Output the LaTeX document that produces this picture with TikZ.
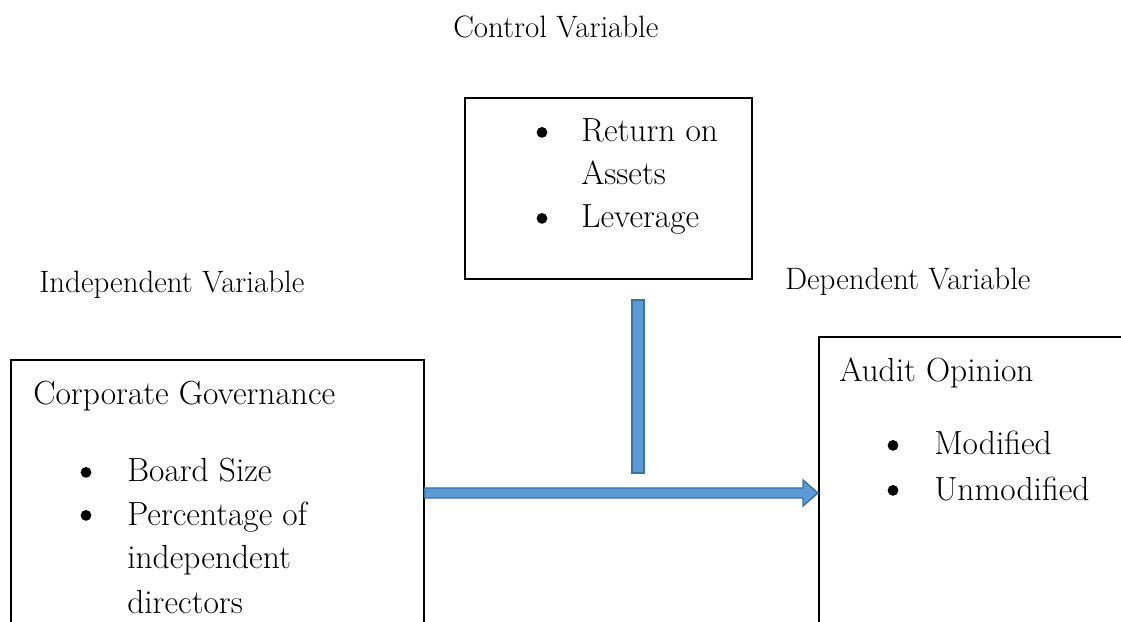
\documentclass[tikz,border=0pt]{standalone}
\usetikzlibrary{calc}
\definecolor{c1}{HTML}{000000}
\definecolor{barfill}{HTML}{5B9BD5}
\definecolor{barline}{HTML}{41719C}

\begin{document}
\begin{tikzpicture}[
    every node/.style={inner sep=0pt, text=c1},
    lab/.style={font=\fontsize{22}{26}\selectfont, anchor=base west},
    txt/.style={font=\fontsize{23.8}{28}\selectfont, anchor=base west},
    box/.style={draw=c1, line width=1.2pt, anchor=north west},
    dot/.style={fill=c1, circle, minimum size=0.27cm},
    bar/.style={fill=barfill, draw=barline, line width=1pt, line join=miter},
]
\useasboundingbox (0,0) rectangle (28.025,15.525);
\clip (0,0) rectangle (28.025,15.525);

% headings over the boxes
\node[lab] (ctl) at (11.325, 14.575) {Control Variable};
\node[lab] (ind) at (0.975, 8.2) {Independent Variable};
\node[lab] (dep) at (19.625, 8.275) {Dependent Variable};

% boxes (left and right run off the page)
\node[box, minimum width=7.175cm, minimum height=4.525cm] (cvbox) at (11.6, 13.1) {};
\node[box, minimum width=10.325cm, minimum height=8cm] (cg) at (0.25, 6.55) {};
\node[box, minimum width=9cm, minimum height=9cm] (ao) at (20.45, 7.125) {};

% control variable
\node[txt] (roa) at (14.525, 11.975) {Return on};
\node[txt] (ast) at (14.525, 10.9) {Assets};
\node[txt] (lev) at (14.525, 9.825) {Leverage};
\node[dot] (d1) at (13.55, 12.215) {};
\node[dot] (d2) at (13.55, 10.065) {};

% independent variable
\node[txt] (cgt) at (0.825, 5.4) {Corporate Governance};
\node[txt] (bsz) at (3.175, 3.475) {Board Size};
\node[txt] (pct) at (3.175, 2.4) {Percentage of};
\node[txt] (idp) at (3.175, 1.325) {independent};
\node[txt] (dir) at (3.175, 0.2) {directors};
\node[dot] (d3) at (2.15, 3.715) {};
\node[dot] (d4) at (2.15, 2.64) {};

% dependent variable
\node[txt] (aot) at (20.975, 5.975) {Audit Opinion};
\node[txt] (mod) at (23.35, 4.15) {Modified};
\node[txt] (umd) at (23.35, 3.025) {Unmodified};
\node[dot] (d5) at (22.325, 4.39) {};
\node[dot] (d6) at (22.325, 3.265) {};

% control bar
\coordinate (vt) at (15.95, 8.025);
\coordinate (vb) at (15.95, 3.7);
\draw[bar] ($(vt)+(-0.15,0)$) rectangle ($(vb)+(0.15,0)$);

% main arrow
\path (cg.north east) ++(0,-3.35) coordinate (ha);
\path (ao.north west) ++(0,-3.925) coordinate (hb);
\draw[bar] ($(ha)+(0,0.125)$) -- ($(hb)+(-0.375,0.125)$) -- ($(hb)+(-0.375,0.325)$)
    -- (hb) -- ($(hb)+(-0.375,-0.325)$) -- ($(hb)+(-0.375,-0.125)$)
    -- ($(ha)+(0,-0.125)$) -- cycle;
\end{tikzpicture}
\end{document}
